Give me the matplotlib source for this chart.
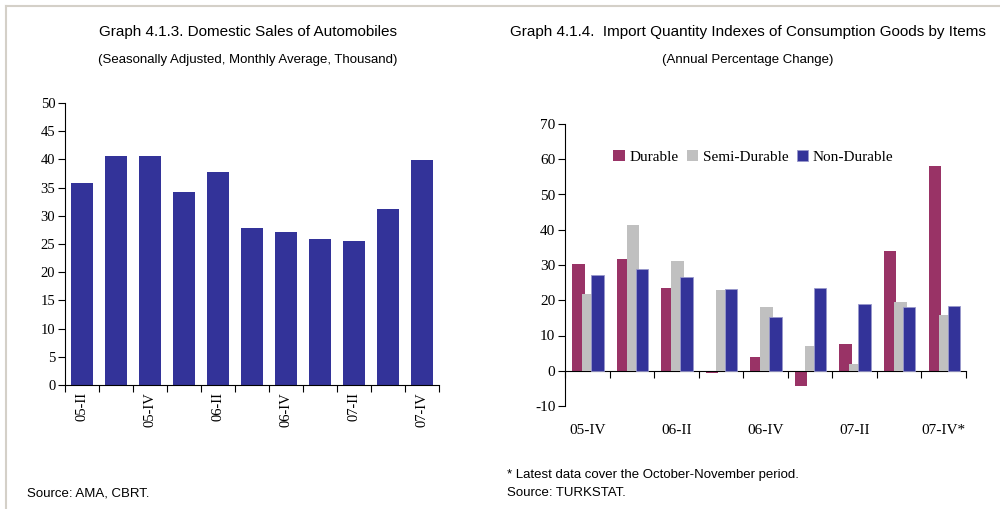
import matplotlib
matplotlib.use("Agg")
import matplotlib.pyplot as plt
import matplotlib.transforms as mtransforms
from matplotlib.lines import Line2D
import numpy as np

# ---- data ----
auto_quarters = ["05-II", "05-III", "05-IV", "06-I", "06-II", "06-III",
                 "06-IV", "07-I", "07-II", "07-III", "07-IV"]
auto_sales = [35.8, 40.6, 40.6, 34.2, 37.8, 27.8, 27.1, 25.9, 25.5, 31.2, 39.9]
auto_yticks = [0, 5, 10, 15, 20, 25, 30, 35, 40, 45, 50]

imp_quarters = ["05-IV", "06-I", "06-II", "06-III", "06-IV", "07-I",
                "07-II", "07-III", "07-IV*"]
durable = [30.2, 31.6, 23.6, -0.7, 3.8, -4.3, 7.7, 34.1, 58.2]
semi_durable = [21.9, 41.4, 31.0, 22.8, 18.0, 6.9, 1.8, 19.4, 15.7]
non_durable = [27.1, 28.9, 26.6, 23.2, 15.3, 23.6, 19.0, 18.1, 18.3]
imp_yticks = [-10, 0, 10, 20, 30, 40, 50, 60, 70]
series_names = ["Durable", "Semi-Durable", "Non-Durable"]

# ---- style ----
C_DUR = "#993366"
C_SEMI = "#C0C0C0"
C_NON = "#333399"
TITLE_FONT = ["Liberation Sans Narrow", "Liberation Sans", "DejaVu Sans"]
SERIF = ["Liberation Serif", "DejaVu Serif"]

fig = plt.figure(figsize=(10, 5.09), dpi=100)
W, H = 1000, 509

def px(x0, y0, x1, y1):
    return [x0 / W, 1 - y1 / H, (x1 - x0) / W, (y1 - y0) / H]

# border lines
fig.add_artist(Line2D([5.5 / W, 5.5 / W], [0, 1 - 6 / H], transform=fig.transFigure,
                      color="#d4d0c8", lw=1.5))
fig.add_artist(Line2D([5.5 / W, 1], [1 - 6 / H, 1 - 6 / H], transform=fig.transFigure,
                      color="#d4d0c8", lw=1.5))

# ---- left chart ----
ax1 = fig.add_axes(px(65, 103, 439, 385))
x1 = np.arange(len(auto_quarters))
ax1.bar(x1, auto_sales, width=0.66, color=C_NON, zorder=2)
ax1.set_xlim(-0.5, len(auto_quarters) - 0.5)
ax1.set_ylim(0, 50)
ax1.set_yticks(auto_yticks)
ax1.set_yticklabels([str(v) for v in auto_yticks], family=SERIF, fontsize=10.5)
ax1.set_xticks(np.arange(-0.5, len(auto_quarters)), minor=False)
ax1.set_xticklabels([])
ax1.set_xticks(x1[::2], minor=True)
ax1.set_xticklabels([auto_quarters[i] for i in x1[::2]], minor=True,
                    rotation=90, family=SERIF, fontsize=10.5)
ax1.tick_params(axis="x", which="minor", length=0, pad=5)
ax1.tick_params(axis="x", which="major", length=5, direction="out", width=0.8)
ax1.tick_params(axis="y", length=5, direction="out", width=0.8, pad=2)
for s in ["top", "right"]:
    ax1.spines[s].set_visible(False)
for s in ["left", "bottom"]:
    ax1.spines[s].set_linewidth(0.8)

fig.text(248 / W, 1 - 32 / H, "Graph 4.1.3. Domestic Sales of Automobiles",
         family=TITLE_FONT, fontsize=11, ha="center", va="center")
fig.text(248 / W, 1 - 60 / H, "(Seasonally Adjusted, Monthly Average, Thousand)",
         family=TITLE_FONT, fontsize=9.5, ha="center", va="center")
fig.text(27 / W, 1 - 493 / H, "Source: AMA, CBRT.",
         family=TITLE_FONT, fontsize=9.5, ha="left", va="center")

# ---- right chart ----
ax2 = fig.add_axes(px(565, 124, 966, 406))
n = len(imp_quarters)
x2 = np.arange(n)
bw = 0.28
ax2.bar(x2 + 0.16 + bw / 2, durable, width=bw, color=C_DUR, zorder=2, label=series_names[0])
ax2.bar(x2 + 0.385 + bw / 2, semi_durable, width=bw, color=C_SEMI, zorder=3, label=series_names[1])
ax2.bar(x2 + 0.585 + bw / 2, non_durable, width=bw, color=C_NON, zorder=4,
        edgecolor="#9999cc", linewidth=0.6, label=series_names[2])
ax2.set_xlim(0, n)
ax2.set_ylim(-10, 70)
ax2.set_yticks(imp_yticks)
ax2.set_yticklabels([str(v) for v in imp_yticks], family=SERIF, fontsize=11)
ax2.spines["bottom"].set_position(("data", 0))
ax2.set_xticks(np.arange(0, n + 1))
ax2.set_xticklabels([])
ax2.tick_params(axis="x", length=5, direction="out", width=0.8)
ax2.tick_params(axis="y", length=5, direction="out", width=0.8, pad=2)
for s in ["top", "right"]:
    ax2.spines[s].set_visible(False)
for s in ["left", "bottom"]:
    ax2.spines[s].set_linewidth(0.8)
trans = mtransforms.blended_transform_factory(ax2.transData, ax2.transAxes)
for i in range(0, n, 2):
    ax2.text(i + 0.5, -0.087, imp_quarters[i], transform=trans, ha="center",
             va="center", family=SERIF, fontsize=11)

leg = ax2.legend(loc="upper left", bbox_to_anchor=(0.105, 0.93), ncol=3, frameon=False,
                 prop={"family": SERIF, "size": 11}, handlelength=0.75, handleheight=0.75,
                 handletextpad=0.3, columnspacing=0.55, borderaxespad=0)

fig.text(748 / W, 1 - 32 / H, "Graph 4.1.4.  Import Quantity Indexes of Consumption Goods by Items",
         family=TITLE_FONT, fontsize=11, ha="center", va="center")
fig.text(748 / W, 1 - 60 / H, "(Annual Percentage Change)",
         family=TITLE_FONT, fontsize=9.5, ha="center", va="center")
fig.text(507 / W, 1 - 475 / H, "* Latest data cover the October-November period.",
         family=TITLE_FONT, fontsize=9.5, ha="left", va="center")
fig.text(507 / W, 1 - 493 / H, "Source: TURKSTAT.",
         family=TITLE_FONT, fontsize=9.5, ha="left", va="center")

fig.savefig("out.png", dpi=100)
